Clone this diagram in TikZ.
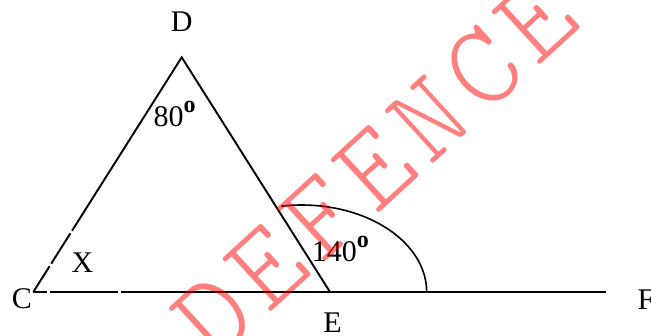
\documentclass[tikz,border=0pt]{standalone}
\usepackage{fontspec}
\setmainfont{Liberation Serif}
\newfontfamily\wmfont{lmmonolt10-regular.otf}
\usetikzlibrary{calc}
\newcommand\mydegsign{\raisebox{14pt}{\fontsize{24}{24}\selectfont\bfseries o}}
\newcommand\wmletter[1]{\makebox[73pt]{#1}}
\begin{document}
\begin{tikzpicture}[x=1pt,y=1pt,
  seg/.style={line width=1.9pt, line cap=butt, line join=miter},
  lbl/.style={inner sep=0pt, font=\fontsize{30}{30}\selectfont, anchor=base},
  wmtext/.style={rotate=42.5, text=red, inner sep=0pt,
    font=\wmfont\fontsize{118}{118}\selectfont}]
\useasboundingbox (0,0) rectangle (651,335);
% vertices
\coordinate (C) at (33.3,43);
\coordinate (D) at (181.7,277.7);
\coordinate (E) at (330,43);
\coordinate (F) at (606,43);
% small gaps on the lines
\coordinate (cd1) at ($(C)!0.110!(D)$);
\coordinate (cd2) at ($(C)!0.121!(D)$);
\coordinate (cd3) at ($(C)!0.250!(D)$);
\coordinate (cd4) at ($(C)!0.261!(D)$);
\coordinate (h1) at (46.7,43);
\coordinate (h2) at (50,43);
\coordinate (h3) at (118.3,43);
\coordinate (h4) at (120.7,43);
\coordinate (A1) at (426.7,43);
% triangle and line
\draw[seg] (C) -- (cd1);
\draw[seg] (cd2) -- (cd3);
\draw[seg] (cd4) -- (D) -- (E);
\draw[seg] (C) -- (h1);
\draw[seg] (h2) -- (h3);
\draw[seg] (h4) -- (F);
% exterior angle arc
\draw[line width=1.6pt] (A1) arc[start angle=0, end angle=99.5, x radius=125, y radius=87];
% labels
\node[lbl] (lD) at (181.7,303) {D};
\node[lbl] (lC) at (22,27) {C};
\node[lbl] (lX) at (82.5,63) {X};
\node[lbl] (lE) at (332.5,3) {E};
\node[lbl, anchor=base west] (lF) at (637.5,26) {F};
\node[lbl, anchor=base west] (l80) at (153.3,208.3) {80\mydegsign};
\node[lbl, anchor=base west] (l140) at (311.7,74) {140\mydegsign};
% watermark
\begin{scope}[transparency group, opacity=0.5]
\node[wmtext] (wm) at (375,167)
  {\wmletter{D}\wmletter{E}\wmletter{F}\wmletter{E}\wmletter{N}\wmletter{C}\wmletter{E}};
\end{scope}
\end{tikzpicture}
\end{document}
